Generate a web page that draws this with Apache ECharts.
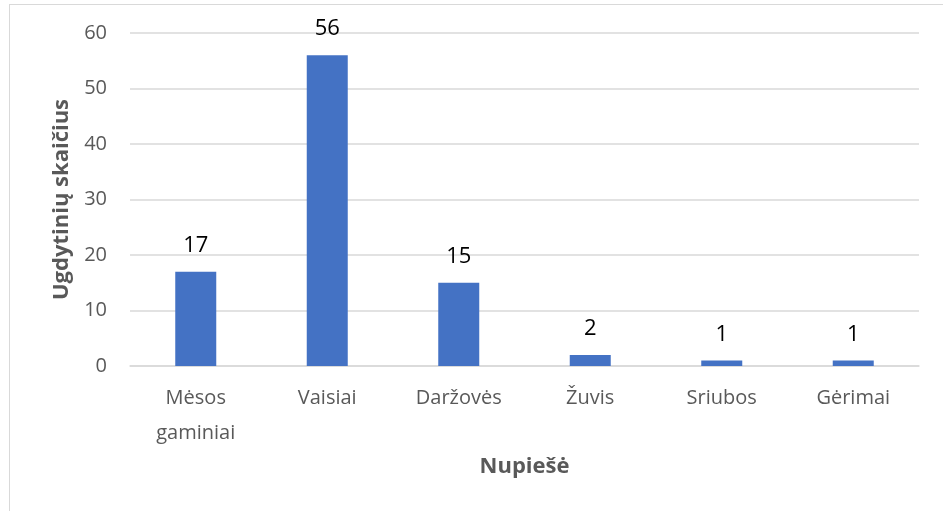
<!DOCTYPE html>
<html>
<head>
<meta charset="utf-8">
<script src="https://cdn.jsdelivr.net/npm/echarts@6/dist/echarts.min.js"></script>
<style>
    html, body { margin: 0; padding: 0; background: #fff; }
    #frame { position: absolute; left: 9px; top: 4px; width: 1000px; height: 600px; border: 1px solid #d9d9d9; box-sizing: border-box; }
    #chart { position: absolute; left: 0; top: 0; width: 943px; height: 511px; }
</style>
</head>
<body>
<div id="frame"></div>
<div id="chart"></div>
<script>
var categories = ["Mėsos\ngaminiai", "Vaisiai", "Daržovės", "Žuvis", "Sriubos", "Gėrimai"];
var values = [17, 56, 15, 2, 1, 1];
var yTicks = [0, 10, 20, 30, 40, 50, 60];

var font = "'Open Sans', 'Noto Sans', sans-serif";
var chart = echarts.init(document.getElementById("chart"));
chart.setOption({
    animation: false,
    grid: { left: 130, right: 24, top: 33, bottom: 145 },
    xAxis: {
        type: "category",
        data: categories,
        name: "Nupiešė",
        nameLocation: "middle",
        nameGap: 85,
        nameTextStyle: { fontFamily: font, fontSize: 22, fontWeight: "bold", color: "#595959" },
        axisLine: { lineStyle: { color: "#d9d9d9", width: 1.5 } },
        axisTick: { show: false },
        axisLabel: { fontFamily: font, fontSize: 20, color: "#595959", margin: 15, lineHeight: 35, interval: 0 }
    },
    yAxis: {
        type: "value",
        min: yTicks[0],
        max: yTicks[yTicks.length - 1],
        interval: 10,
        name: "Ugdytinių skaičius",
        nameLocation: "middle",
        nameGap: 57,
        nameTextStyle: { fontFamily: font, fontSize: 22, fontWeight: "bold", color: "#595959" },
        axisLine: { show: false },
        axisTick: { show: false },
        axisLabel: { fontFamily: font, fontSize: 20, color: "#595959", margin: 23 },
        splitLine: { lineStyle: { color: "#d9d9d9", width: 1.5 } }
    },
    series: [{
        type: "bar",
        data: values,
        barWidth: 41,
        itemStyle: { color: "#4472C4" },
        label: { show: true, position: "top", distance: 15, fontFamily: font, fontSize: 22, color: "#000" }
    }]
});
</script>
</body>
</html>
